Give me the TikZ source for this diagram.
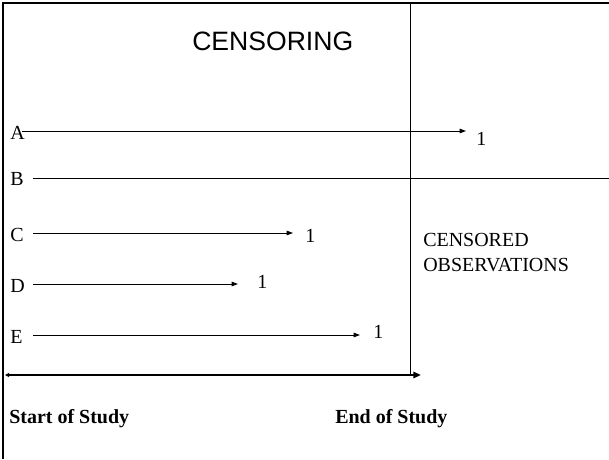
\documentclass[tikz,border=0pt]{standalone}
\usepackage{fontspec}
\setmainfont{Liberation Serif}
\newfontfamily\titlefont{Liberation Sans}
\usetikzlibrary{arrows.meta}
\tikzset{
    lifeline/.style={line width=0.7pt, -{Triangle[length=4.5pt,width=3.2pt]}},
    rowlabel/.style={anchor=base west, inner sep=0pt, font=\fontsize{14.2}{17}\selectfont},
    studylabel/.style={rowlabel, font=\fontsize{14.2}{17}\selectfont\bfseries},
}
\begin{document}
\begin{tikzpicture}[x=0.025cm, y=-0.025cm]
            \useasboundingbox (0,0) rectangle (609,459);
            % frame
            \draw[line width=2.1pt] (3,459) -- (3,2);
            \draw[line width=1.4pt] (2,3) -- (609,3);

            % end of study
            \coordinate (endtop) at (410,3);
            \coordinate (endbot) at (410,375);
            \draw[line width=0.7pt] (endtop) -- (endbot);

            % time axis
            \coordinate (start) at (5,375);
            \coordinate (stop) at (421,375);
            \draw[line width=1.4pt, {Triangle[length=3pt,width=3pt]}-{Triangle[length=5.5pt,width=4.5pt]}]
                (start) -- (stop);

            \node[anchor=base west, inner sep=0pt, font=\titlefont\fontsize{18.9}{22}\selectfont]
                (title) at (192,51) {CENSORING};

            % subjects with an event
            \foreach \lab/\ly/\xs/\xe/\xo/\yo in {A/131/22/466/476/145,C/233/33/293/305/242,D/284/33/238/257/288,E/335/33/360/373/338}
            {
                \node[rowlabel] (lab\lab) at (10,\ly+8.5) {\lab};
                \coordinate (\lab0) at (\xs,\ly);
                \coordinate (\lab1) at (\xe,\ly);
                \draw[lifeline] (\lab0) -- (\lab1);
                \node[rowlabel] (one\lab) at (\xo,\yo) {1};
            }

            % subject still followed
            \node[rowlabel] (labB) at (10,185) {B};
            \coordinate (B0) at (33,178);
            \coordinate (B1) at (609,178);
            \draw[line width=0.7pt] (B0) -- (B1);

            \node[rowlabel] (cens) at (423,246) {CENSORED};
            \node[rowlabel] (obs) at (423,271) {OBSERVATIONS};

            \node[studylabel] (startlab) at (9,423) {Start of Study};
            \node[studylabel] (endlab) at (335,423) {End of Study};
\end{tikzpicture}
\end{document}
